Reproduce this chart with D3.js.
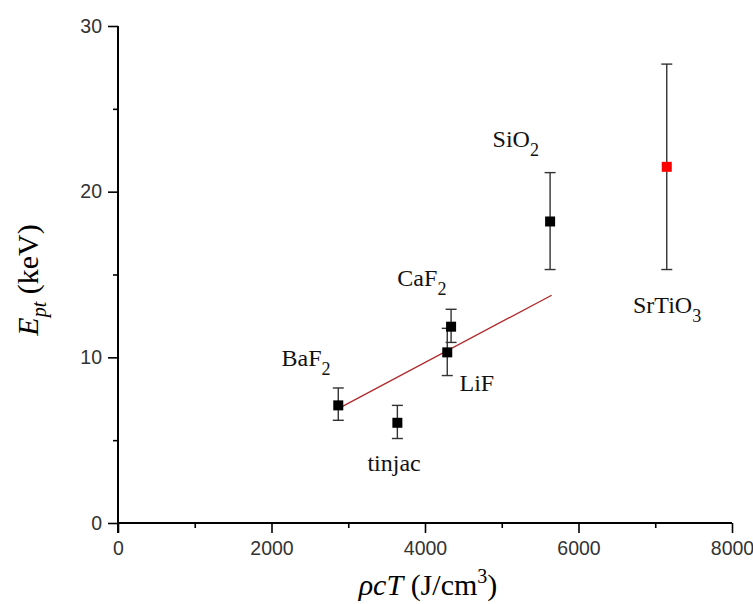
<!DOCTYPE html>
<html>
<head>
<meta charset="utf-8">
<script src="https://cdn.jsdelivr.net/npm/d3@7"></script>
<style>
  body { margin: 0; background: #fff; }
  .lbl { font-family: "Liberation Serif", "Times New Roman", serif; }
  .tick text { font-family: "Liberation Sans", Arial, sans-serif; font-size: 19.5px; fill: #333; }
</style>
</head>
<body>
<svg id="chart" width="753" height="604"></svg>
<script>
// materials and their measured values
const materials = ['BaF2', 'tinjac', 'CaF2', 'LiF', 'SiO2', 'SrTiO3'];
const rhoCT = [2870, 3640, 4340, 4290, 5630, 7150];
const ePt = [7.1, 6.05, 11.85, 10.3, 18.2, 21.5];
const errLow = [6.2, 5.1, 10.9, 8.9, 15.3, 15.3];
const errHigh = [8.15, 7.1, 12.9, 11.75, 21.15, 27.7];
const pointColors = ['#000', '#000', '#000', '#000', '#000', '#f00'];

// linear fit through the fluorides
const fitX = [2870, 5650];
const fitY = [6.9, 13.75];

const xTicks = [0, 2000, 4000, 6000, 8000];
const xMinor = [1000, 3000, 5000, 7000];
const yTicks = [0, 10, 20, 30];
const yMinor = [5, 15, 25];

// label text: main + subscript, anchor (start of baseline) in data units
const labels = [
  { main: 'BaF', sub: '2', x: 2130, y: 9.5 },
  { main: 'tinjac', sub: '', x: 3250, y: 3.15 },
  { main: 'CaF', sub: '2', x: 3640, y: 14.3 },
  { main: 'LiF', sub: '', x: 4450, y: 7.95 },
  { main: 'SiO', sub: '2', x: 4880, y: 22.7 },
  { main: 'SrTiO', sub: '3', x: 6710, y: 12.65 }
];

const svg = d3.select('#chart');
const mLeft = 118, mRight = 732, mTop = 26, mBottom = 523;

const x = d3.scaleLinear().domain([0, 8000]).range([mLeft, mRight]);
const y = d3.scaleLinear().domain([0, 30]).range([mBottom, mTop]);

// axes
const xAxis = svg.append('g').attr('transform', `translate(0,${mBottom})`)
  .call(d3.axisBottom(x).tickValues(xTicks).tickSize(10).tickPadding(8).tickFormat(d3.format('d')));
svg.append('g').attr('transform', `translate(0,${mBottom})`)
  .call(d3.axisBottom(x).tickValues(xMinor).tickSize(5).tickFormat(''))
  .select('.domain').remove();
const yAxis = svg.append('g').attr('transform', `translate(${mLeft},0)`)
  .call(d3.axisLeft(y).tickValues(yTicks).tickSize(10).tickPadding(6));
svg.append('g').attr('transform', `translate(${mLeft},0)`)
  .call(d3.axisLeft(y).tickValues(yMinor).tickSize(5).tickFormat(''))
  .select('.domain').remove();

svg.selectAll('.domain').attr('stroke', '#000').attr('stroke-width', 2);
xAxis.select('.domain').attr('d', `M${mLeft},0H${mRight}`);
yAxis.select('.domain').attr('d', `M0,${mTop}V${mBottom + 10}`);
svg.selectAll('.tick line').attr('stroke', '#000').attr('stroke-width', 1.6);

// fit line
svg.append('line')
  .attr('x1', x(fitX[0])).attr('y1', y(fitY[0]))
  .attr('x2', x(fitX[1])).attr('y2', y(fitY[1]))
  .attr('stroke', '#b0282a').attr('stroke-width', 1.3);

// error bars
const idx = d3.range(materials.length);
const bars = svg.append('g').attr('stroke', '#333').attr('stroke-width', 1.4);
idx.forEach(i => {
  const cx = x(rhoCT[i]);
  bars.append('line').attr('x1', cx).attr('x2', cx).attr('y1', y(errLow[i])).attr('y2', y(errHigh[i]));
  bars.append('line').attr('x1', cx - 5.5).attr('x2', cx + 5.5).attr('y1', y(errLow[i])).attr('y2', y(errLow[i]));
  bars.append('line').attr('x1', cx - 5.5).attr('x2', cx + 5.5).attr('y1', y(errHigh[i])).attr('y2', y(errHigh[i]));
});

// markers
svg.append('g').selectAll('rect').data(idx).join('rect')
  .attr('x', i => x(rhoCT[i]) - 5).attr('y', i => y(ePt[i]) - 5)
  .attr('width', 10).attr('height', 10)
  .attr('fill', i => pointColors[i]);

// point labels
labels.forEach(l => {
  const t = svg.append('text').attr('class', 'lbl').attr('x', x(l.x)).attr('y', y(l.y))
    .attr('font-size', 24).attr('fill', '#111');
  t.append('tspan').text(l.main);
  if (l.sub) t.append('tspan').attr('dy', 9).attr('font-size', 18).text(l.sub);
});

// axis titles
const xt = svg.append('text').attr('class', 'lbl').attr('x', 428).attr('y', 595)
  .attr('text-anchor', 'middle').attr('font-size', 30);
xt.append('tspan').attr('font-style', 'italic').text('\u03C1cT');
xt.append('tspan').text(' (J/cm');
xt.append('tspan').attr('dy', -12).attr('font-size', 20).text('3');
xt.append('tspan').attr('dy', 12).text(')');

const yt = svg.append('text').attr('class', 'lbl').attr('transform', 'translate(38,280) rotate(-90)')
  .attr('text-anchor', 'middle').attr('font-size', 30);
yt.append('tspan').attr('font-style', 'italic').text('E');
yt.append('tspan').attr('font-style', 'italic').attr('dy', 8).attr('font-size', 20).text('pt');
yt.append('tspan').attr('dy', -8).text(' (keV)');
</script>
</body>
</html>
